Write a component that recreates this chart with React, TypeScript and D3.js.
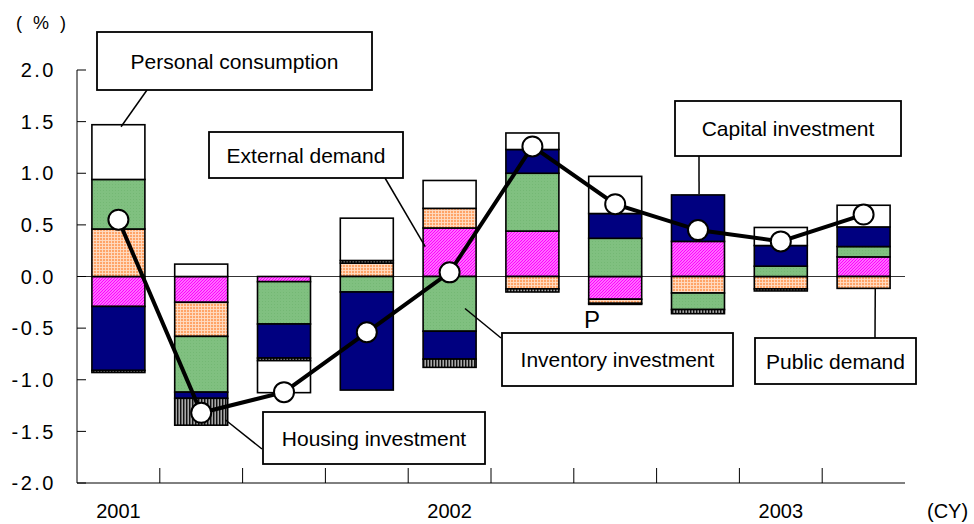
import React from "react";
import * as d3 from "d3";

// ---- data ----
const categories = ["2001Q1", "2001Q2", "2001Q3", "2001Q4", "2002Q1", "2002Q2", "2002Q3", "2002Q4", "2003Q1", "2003Q2"];
const yearLabels = ["2001", "", "", "", "2002", "", "", "", "2003", ""];
const externalDemand = [-0.29, -0.25, -0.05, 0.0, 0.47, 0.44, -0.22, 0.34, 0.0, 0.19];
const publicDemand = [0.46, -0.33, 0.0, 0.13, 0.19, -0.12, -0.04, -0.16, -0.12, -0.115];
const inventoryInvestment = [0.48, -0.54, -0.41, -0.15, -0.53, 0.56, 0.37, -0.16, 0.1, 0.1];
const capitalInvestment = [-0.62, -0.06, -0.33, -0.95, -0.27, 0.23, 0.24, 0.45, 0.2, 0.19];
const housingInvestment = [-0.02, -0.26, -0.025, 0.025, -0.08, -0.03, -0.01, -0.04, -0.02, 0.0];
const personalConsumption = [0.53, 0.12, -0.31, 0.41, 0.27, 0.16, 0.36, 0.0, 0.175, 0.21];
const realGDP = [0.55, -1.32, -1.12, -0.54, 0.04, 1.26, 0.7, 0.45, 0.34, 0.6];
const yTicks = [2.0, 1.5, 1.0, 0.5, 0.0, -0.5, -1.0, -1.5, -2.0];

const seriesKeys = ["external", "public", "inventory", "capital", "housing", "consumption"];
const seriesFill: Record<string, string> = {
  external: "url(#patExternal)",
  public: "url(#patPublic)",
  inventory: "url(#patInventory)",
  capital: "#000080",
  housing: "url(#patHousing)",
  consumption: "#ffffff",
};

const FONT = "'Liberation Sans', Arial, sans-serif";

export default function App() {
  const W = 974, H = 524;
  const left = 77, right = 905, top = 70, bottom = 483;

  const rows = categories.map((c, i) => ({
    cat: c,
    external: externalDemand[i],
    public: publicDemand[i],
    inventory: inventoryInvestment[i],
    capital: capitalInvestment[i],
    housing: housingInvestment[i],
    consumption: personalConsumption[i],
  }));

  const x = d3.scaleBand<string>().domain(categories).range([left, right]).paddingInner(0.36).paddingOuter(0.18);
  const y = d3.scaleLinear().domain([-2, 2]).range([bottom, top]);

  const stacked = d3
    .stack<any>()
    .keys(seriesKeys)
    .order(d3.stackOrderNone)
    .offset(d3.stackOffsetDiverging)(rows);

  const bw = x.bandwidth();
  const cx = (i: number) => (x(categories[i]) as number) + bw / 2;
  const line = d3
    .line<number>()
    .x((_, i) => cx(i))
    .y((d) => y(d));

  const step = x.step();
  const boundaries = d3.range(1, categories.length).map((i) => left + step * i);

  // callout annotations: box + leader to an anchor on a bar
  const callouts = [
    { text: "Personal consumption", bx: 97, by: 32, bw: 275, bh: 58, sx: 147, sy: 90, cat: 0, fx: 0.55, v: 1.45 },
    { text: "External demand", bx: 209, by: 132, bw: 194, bh: 46, sx: 385, sy: 178, cat: 4, fx: 0.04, v: 0.29 },
    { text: "Capital investment", bx: 675, by: 101, bw: 226, bh: 55, sx: 699, sy: 156, cat: 7, fx: 0.52, v: 0.8 },
    { text: "Inventory investment", bx: 502, by: 333, bw: 231, bh: 53, sx: 501, sy: 338, cat: 4, fx: 0.79, v: -0.31 },
    { text: "Public demand", bx: 755, by: 338, bw: 161, bh: 46, sx: 875, sy: 338, cat: 9, fx: 0.72, v: -0.115 },
    { text: "Housing investment", bx: 263, by: 412, bw: 222, bh: 52, sx: 262, sy: 449, cat: 1, fx: 0.96, v: -1.39 },
  ];

  return (
    <svg width={W} height={H} style={{ position: "absolute", left: 0, top: 0, background: "#fff" }} fontFamily={FONT}>
      <defs>
        <pattern id="patExternal" patternUnits="userSpaceOnUse" width="3" height="3">
          <rect width="3" height="3" fill="#ffc0ff" />
          <path d="M0,3 L3,0 M-1,1 L1,-1 M2,4 L4,2" stroke="#ff00ff" strokeWidth="1.3" />
        </pattern>
        <pattern id="patPublic" patternUnits="userSpaceOnUse" width="3" height="3">
          <rect width="3" height="3" fill="#ffa468" />
          <path d="M0,0.5 L3,0.5 M0.5,0 L0.5,3" stroke="#ffdcc4" strokeWidth="0.9" />
        </pattern>
        <pattern id="patInventory" patternUnits="userSpaceOnUse" width="3" height="3">
          <rect width="3" height="3" fill="#80c080" />
          <rect x="1" y="1" width="1" height="1" fill="#74b874" />
        </pattern>
        <pattern id="patHousing" patternUnits="userSpaceOnUse" width="3" height="3">
          <rect width="3" height="3" fill="#a8a8a8" />
          <path d="M0.75,0 L0.75,3" stroke="#000" strokeWidth="1.3" />
        </pattern>
      </defs>

      {/* axes */}
      <line x1={left} x2={left} y1={top} y2={bottom} stroke="#000" strokeWidth={1} />
      {yTicks.map((t) => (
        <g key={t}>
          <line x1={left} x2={left + 9} y1={y(t)} y2={y(t)} stroke="#000" strokeWidth={1} />
          <text x={56} y={y(t)} dy="0.36em" textAnchor="end" fontSize={20} letterSpacing={2.5} fill="#000">
            {t.toFixed(1)}
          </text>
        </g>
      ))}
      <line x1={left} x2={right} y1={bottom} y2={bottom} stroke="#000" strokeWidth={1} />
      {boundaries.map((bx, i) => (
        <line key={i} x1={bx} x2={bx} y1={bottom} y2={bottom - 15} stroke="#000" strokeWidth={1} />
      ))}
      {yearLabels.map((l, i) =>
        l ? (
          <text key={i} x={cx(i)} y={518} textAnchor="middle" fontSize={20} fill="#000">
            {l}
          </text>
        ) : null
      )}
      <text x={927} y={518} fontSize={20} fill="#000">(CY)</text>
      <text x={16} y={29} fontSize={18} fill="#000" letterSpacing={3}>( % )</text>

      {/* bars */}
      {stacked.map((s) => (
        <g key={s.key}>
          {s.map((d, i) =>
            Math.abs(d[1] - d[0]) > 1e-9 ? (
              <rect
                key={i}
                x={x(categories[i])}
                width={bw}
                y={y(Math.max(d[0], d[1]))}
                height={Math.abs(y(d[0]) - y(d[1]))}
                fill={seriesFill[s.key]}
                stroke="#000"
                strokeWidth={1.6}
              />
            ) : null
          )}
        </g>
      ))}

      {/* zero line */}
      <line x1={left} x2={right} y1={y(0)} y2={y(0)} stroke="#000" strokeWidth={0.8} />

      {/* GDP line */}
      <path d={line(realGDP) as string} fill="none" stroke="#000" strokeWidth={4} />
      {realGDP.map((v, i) => (
        <circle key={i} cx={cx(i)} cy={y(v)} r={10} fill="#fff" stroke="#000" strokeWidth={2} />
      ))}

      <text x={584} y={328} fontSize={24} fill="#000">P</text>

      {/* callouts */}
      {callouts.map((c) => (
        <g key={c.text}>
          <line
            x1={c.sx}
            y1={c.sy}
            x2={(x(categories[c.cat]) as number) + bw * c.fx}
            y2={y(c.v)}
            stroke="#000"
            strokeWidth={1.5}
          />
          <rect x={c.bx} y={c.by} width={c.bw} height={c.bh} fill="#fff" stroke="#000" strokeWidth={1.8} />
          <text x={c.bx + c.bw / 2} y={c.by + c.bh / 2} dy="0.36em" textAnchor="middle" fontSize={21} fill="#000">
            {c.text}
          </text>
        </g>
      ))}
    </svg>
  );
}
